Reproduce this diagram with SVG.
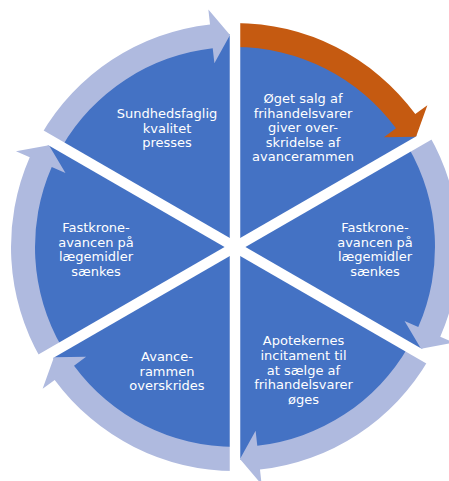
<svg xmlns="http://www.w3.org/2000/svg" xmlns:xlink="http://www.w3.org/1999/xlink" width="449" height="481" viewBox="0 0 449 481">
<style>
.sec{fill:#4472C4}
.lbl{font-family:"DejaVu Sans","Liberation Sans",sans-serif;font-size:13px;fill:#FFFFFF;text-anchor:middle}
.arr{fill:#AFBADF}
.hot{fill:#C55A11}
.gap{stroke:#FFFFFF;stroke-width:10.5;fill:none}
</style>
<defs>
<path id="arrow" d="M41.01 135 A224 224 0 0 1 210.03 24.40 L208.36 9.49 L230.01 35.06 L214.38 63.15 L212.71 48.25 A200 200 0 0 0 61.79 147 Z"/>
</defs>
<rect width="449" height="481" fill="#FFFFFF"/>
<g id="node-sundhedsfaglig">
<path class="sec" d="M235 247 L50.54 140.5 A213 213 0 0 1 235 34 Z"/>
<text class="lbl" x="167" y="118">Sundhedsfaglig</text>
<text class="lbl" x="167" y="132.5">kvalitet</text>
<text class="lbl" x="167" y="147">presses</text>
</g>
<g id="node-oget-salg">
<path class="sec" d="M235 247 L235 34 A213 213 0 0 1 419.46 140.5 Z"/>
<text class="lbl" x="303" y="103">Øget salg af</text>
<text class="lbl" x="303" y="117.5">frihandelsvarer</text>
<text class="lbl" x="303" y="132">giver over-</text>
<text class="lbl" x="303" y="146.5">skridelse af</text>
<text class="lbl" x="303" y="161">avancerammen</text>
</g>
<g id="node-fastkrone-right">
<path class="sec" d="M235 247 L419.46 140.5 A213 213 0 0 1 419.46 353.5 Z"/>
<text class="lbl" x="375" y="232">Fastkrone-</text>
<text class="lbl" x="375" y="246.5">avancen på</text>
<text class="lbl" x="375" y="261">lægemidler</text>
<text class="lbl" x="375" y="275.5">sænkes</text>
</g>
<g id="node-apotekernes">
<path class="sec" d="M235 247 L419.46 353.5 A213 213 0 0 1 235 460 Z"/>
<text class="lbl" x="303.5" y="345">Apotekernes</text>
<text class="lbl" x="303.5" y="360">incitament til</text>
<text class="lbl" x="303.5" y="374.5">at sælge af</text>
<text class="lbl" x="303.5" y="389">frihandelsvarer</text>
<text class="lbl" x="303.5" y="403.5">øges</text>
</g>
<g id="node-avancerammen">
<path class="sec" d="M235 247 L235 460 A213 213 0 0 1 50.54 353.5 Z"/>
<text class="lbl" x="167" y="361">Avance-</text>
<text class="lbl" x="167" y="375.5">rammen</text>
<text class="lbl" x="167" y="390">overskrides</text>
</g>
<g id="node-fastkrone-left">
<path class="sec" d="M235 247 L50.54 353.5 A213 213 0 0 1 50.54 140.5 Z"/>
<text class="lbl" x="96" y="232">Fastkrone-</text>
<text class="lbl" x="96" y="246.5">avancen på</text>
<text class="lbl" x="96" y="261">lægemidler</text>
<text class="lbl" x="96" y="275.5">sænkes</text>
</g>
<g id="connectors">
<use xlink:href="#arrow" class="arr"/>
<use xlink:href="#arrow" class="hot" transform="rotate(60 235 247)"/>
<use xlink:href="#arrow" class="arr" transform="rotate(120 235 247)"/>
<use xlink:href="#arrow" class="arr" transform="rotate(180 235 247)"/>
<use xlink:href="#arrow" class="arr" transform="rotate(240 235 247)"/>
<use xlink:href="#arrow" class="arr" transform="rotate(300 235 247)"/>
</g>
<g id="gaps">
<line class="gap" x1="235" y1="0" x2="235" y2="481"/>
<line class="gap" x1="447.18" y1="124.5" x2="22.82" y2="369.5"/>
<line class="gap" x1="447.18" y1="369.5" x2="22.82" y2="124.5"/>
</g>
</svg>
